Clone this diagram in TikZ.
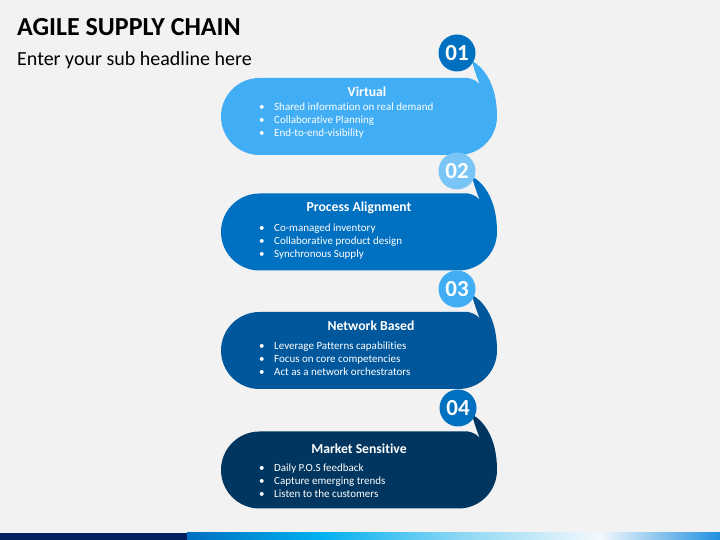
\documentclass[tikz,border=0pt]{standalone}
\usepackage{fontspec}
\setmainfont{Carlito}[Ligatures=NoCommon]

\definecolor{backgr}{HTML}{F2F2F2}
\definecolor{sky}{HTML}{41ADF4}
\definecolor{ocean}{HTML}{0070C0}
\definecolor{deep}{HTML}{00579B}
\definecolor{navy}{HTML}{00365F}
\definecolor{pale}{HTML}{7AC5F8}
\definecolor{barnavy}{HTML}{002060}
\definecolor{barcyan}{HTML}{00B0F0}
\definecolor{barlight}{HTML}{90D8F4}
\definecolor{barwhite}{HTML}{F4F8FC}
\definecolor{barend}{HTML}{2090E0}

\pgfdeclarehorizontalshading{footshade}{100bp}{color(0bp)=(ocean); color(25bp)=(ocean);
  color(37.5bp)=(barcyan); color(51bp)=(barlight); color(63.7bp)=(barwhite);
  color(75bp)=(barend); color(100bp)=(barend)}

% rounded box whose top right corner runs up into a tail
\newcommand{\tailpill}[2]{%
  \fill[#1,shift={(221,#2)}] (38.5,0) -- (247,0)
    .. controls (253,-1) and (257,-4) .. (259,-7)
    .. controls (256,0) and (253,9) .. (251,17)
    .. controls (264,10) and (276,-8) .. (276,-38.5)
    arc[start angle=0,end angle=-90,radius=38.5] -- (38.5,-77)
    arc[start angle=270,end angle=90,radius=38.5] -- cycle;}

\begin{document}
\begin{tikzpicture}[x=1pt,y=1pt,
  badge/.style={circle,minimum size=37pt,inner sep=0pt,text=white,
    font=\fontsize{23}{23}\selectfont\bfseries},
  head/.style={text=white,inner sep=0pt,font=\fontsize{13.7}{15}\selectfont\bfseries},
  items/.style={text=white,align=left,anchor=west,inner sep=0pt,
    font=\fontsize{11}{13}\selectfont}]

\useasboundingbox (0,0) rectangle (720,540);
\fill[backgr] (0,0) rectangle (720,540);

\node[anchor=base west,inner sep=0pt,font=\fontsize{26}{26}\selectfont\bfseries]
  (title) at (17,504) {AGILE SUPPLY CHAIN};
\node[anchor=base west,inner sep=0pt,font=\fontsize{20}{20}\selectfont]
  (subtitle) at (17,474) {Enter your sub headline here};

\tailpill{sky}{462}
\tailpill{ocean}{346.5}
\tailpill{deep}{228}
\tailpill{navy}{108.5}

\node[badge,fill=ocean] (n1) at (457,487) {01};
\node[badge,fill=pale]  (n2) at (457,369) {02};
\node[badge,fill=sky]   (n3) at (457,251) {03};
\node[badge,fill=ocean] (n4) at (458,132) {04};

\node[head] (h1) at (367,448) {Virtual};
\node[items] (l1) at (259,419) {\makebox[15pt][l]{\textbullet}Shared information on real demand\\
  \makebox[15pt][l]{\textbullet}Collaborative Planning\\
  \makebox[15pt][l]{\textbullet}End-to-end-visibility};

\node[head] (h2) at (359,332) {Process Alignment};
\node[items] (l2) at (259,298) {\makebox[15pt][l]{\textbullet}Co-managed inventory\\
  \makebox[15pt][l]{\textbullet}Collaborative product design\\
  \makebox[15pt][l]{\textbullet}Synchronous Supply};

\node[head] (h3) at (371,214) {Network Based};
\node[items] (l3) at (259,181) {\makebox[15pt][l]{\textbullet}Leverage Patterns capabilities\\
  \makebox[15pt][l]{\textbullet}Focus on core competencies\\
  \makebox[15pt][l]{\textbullet}Act as a network orchestrators};

\node[head] (h4) at (359,91) {Market Sensitive};
\node[items] (l4) at (259,59) {\makebox[15pt][l]{\textbullet}Daily P.O.S feedback\\
  \makebox[15pt][l]{\textbullet}Capture emerging trends\\
  \makebox[15pt][l]{\textbullet}Listen to the customers};

\fill[barnavy] (0,0) rectangle (187,7);
\shade[shading=footshade] (187,0) rectangle (720,7);
\end{tikzpicture}
\end{document}
